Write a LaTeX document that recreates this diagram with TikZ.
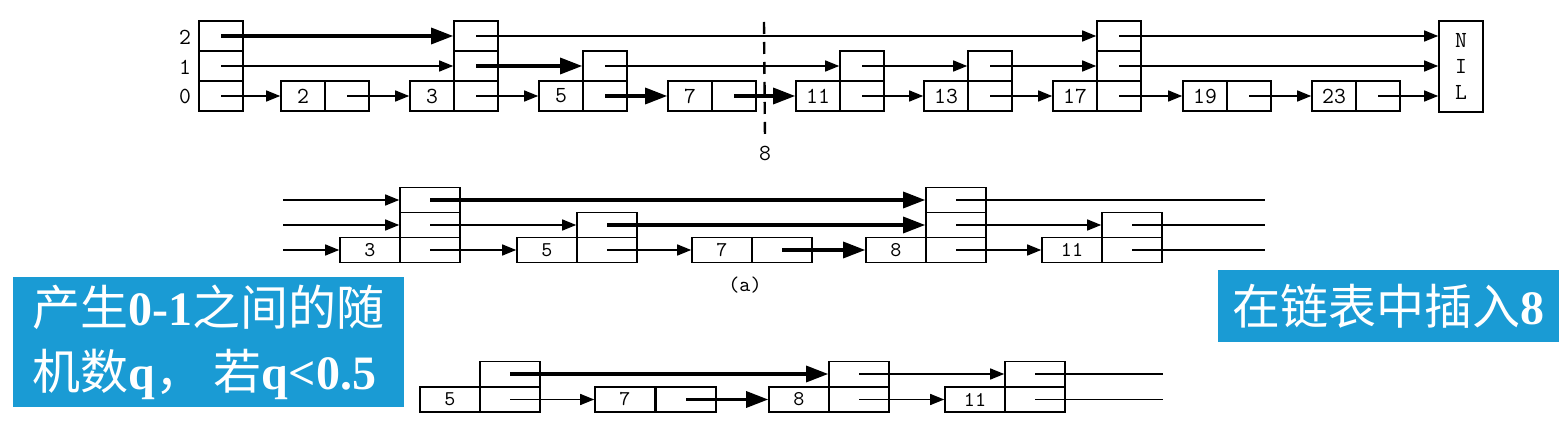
\documentclass[tikz,border=0pt]{standalone}
\usepackage{fontspec}
\usetikzlibrary{arrows.meta}
\newfontfamily\cjk{Noto Sans CJK SC}
\newfontfamily\serifnum{Liberation Serif}
\definecolor{noteblue}{RGB}{26,155,212}
\newcommand{\toptext}{\ttfamily\fontsize{11.5}{13}\selectfont}
\newcommand{\lowtext}{\ttfamily\fontsize{10.5}{12}\selectfont}
\newcommand{\qf}[1]{{\serifnum\bfseries #1}}
\tikzset{
  cell/.style={draw, line width=0.8pt, minimum width=22pt, minimum height=15pt, inner sep=0pt, font=\toptext},
  mcell/.style={draw, line width=0.8pt, minimum width=30pt, minimum height=12.5pt, inner sep=0pt, font=\lowtext},
  ln/.style={line width=0.7pt},
  arr/.style={ln, -{Triangle[length=7pt,width=5.5pt]}},
  thk/.style={line width=1.6pt, -{Triangle[length=11pt,width=8pt]}},
  cutline/.style={line width=1.2pt, dash pattern=on 6pt off 4pt},
  note/.style={fill=noteblue, text=white, inner sep=0pt, font=\fontsize{24}{32}\selectfont}
}
\begin{document}
\begin{tikzpicture}[x=0.5pt,y=-0.5pt]
\useasboundingbox (0,0) rectangle (1559,422);
% top list
\node[font=\toptext] (lv2) at (185,37) {2};
\node[font=\toptext] (lv1) at (185,67) {1};
\node[font=\toptext] (lv0) at (185,96) {0};
\node[cell] (h0) at (221,96) {};
\node[cell] (h1) at (221,66) {};
\node[cell] (h2) at (221,36) {};
\node[cell] (t2k) at (303,96) {2};
\node[cell] (t2p0) at (347,96) {};
\node[cell] (t3k) at (432,96) {3};
\node[cell] (t3p0) at (476,96) {};
\node[cell] (t3p1) at (476,66) {};
\node[cell] (t3p2) at (476,36) {};
\node[cell] (t5k) at (561,96) {5};
\node[cell] (t5p0) at (605,96) {};
\node[cell] (t5p1) at (605,66) {};
\node[cell] (t7k) at (690,96) {7};
\node[cell] (t7p0) at (734,96) {};
\node[cell] (t11k) at (818,96) {11};
\node[cell] (t11p0) at (862,96) {};
\node[cell] (t11p1) at (862,66) {};
\node[cell] (t13k) at (946,96) {13};
\node[cell] (t13p0) at (990,96) {};
\node[cell] (t13p1) at (990,66) {};
\node[cell] (t17k) at (1075,96) {17};
\node[cell] (t17p0) at (1119,96) {};
\node[cell] (t17p1) at (1119,66) {};
\node[cell] (t17p2) at (1119,36) {};
\node[cell] (t19k) at (1205,96) {19};
\node[cell] (t19p0) at (1249,96) {};
\node[cell] (t23k) at (1334,96) {23};
\node[cell] (t23p0) at (1378,96) {};
\node[cell, minimum height=45.5pt, align=center] (nil) at (1461,66.5) {N\\I\\L};
% where 8 goes
\coordinate (cuttop) at (764,22);
\node[font=\toptext] (cutlbl) at (765,153) {8};
\draw[cutline, shorten >=2pt] (cuttop) -- (cutlbl.north);
\draw[arr] (h0.center) -- (t2k.west);
\draw[arr] (h1.center) -- (t3p1.west);
\draw[thk] (h2.center) -- (t3p2.west);
\draw[arr] (t2p0.center) -- (t3k.west);
\draw[arr] (t3p0.center) -- (t5k.west);
\draw[thk] (t3p1.center) -- (t5p1.west);
\draw[arr] (t3p2.center) -- (t17p2.west);
\draw[thk] (t5p0.center) -- (t7k.west);
\draw[arr] (t5p1.center) -- (t11p1.west);
\draw[thk] (t7p0.center) -- (t11k.west);
\draw[arr] (t11p0.center) -- (t13k.west);
\draw[arr] (t11p1.center) -- (t13p1.west);
\draw[arr] (t13p0.center) -- (t17k.west);
\draw[arr] (t13p1.center) -- (t17p1.west);
\draw[arr] (t17p0.center) -- (t19k.west);
\draw[arr] (t17p1.center) -- (t17p1 -| nil.west);
\draw[arr] (t17p2.center) -- (t17p2 -| nil.west);
\draw[arr] (t19p0.center) -- (t23k.west);
\draw[arr] (t23p0.center) -- (t23p0 -| nil.west);
% middle list, 8 linked in
\coordinate (in0) at (283,250);
\coordinate (in1) at (283,225);
\coordinate (in2) at (283,200);
\node[mcell] (m3k) at (370,250) {3};
\node[mcell] (m3p0) at (430,250) {};
\node[mcell] (m3p1) at (430,225) {};
\node[mcell] (m3p2) at (430,200) {};
\node[mcell] (m5k) at (547,250) {5};
\node[mcell] (m5p0) at (607,250) {};
\node[mcell] (m5p1) at (607,225) {};
\node[mcell] (m7k) at (722,250) {7};
\node[mcell] (m7p0) at (782,250) {};
\node[mcell] (m8k) at (896,250) {8};
\node[mcell] (m8p0) at (956,250) {};
\node[mcell] (m8p1) at (956,225) {};
\node[mcell] (m8p2) at (956,200) {};
\node[mcell] (m11k) at (1072,250) {11};
\node[mcell] (m11p0) at (1132,250) {};
\node[mcell] (m11p1) at (1132,225) {};
\coordinate (out0) at (1265,250);
\coordinate (out1) at (1265,225);
\coordinate (out2) at (1265,200);
\draw[arr] (in0) -- (m3k.west);
\draw[arr] (in1) -- (m3p1.west);
\draw[arr] (in2) -- (m3p2.west);
\draw[arr] (m3p0.center) -- (m5k.west);
\draw[arr] (m3p1.center) -- (m5p1.west);
\draw[thk] (m3p2.center) -- (m8p2.west);
\draw[arr] (m5p0.center) -- (m7k.west);
\draw[thk] (m5p1.center) -- (m8p1.west);
\draw[thk] (m7p0.center) -- (m8k.west);
\draw[arr] (m8p0.center) -- (m11k.west);
\draw[arr] (m8p1.center) -- (m11p1.west);
\draw[ln] (m8p2.center) -- (out2);
\draw[ln] (m11p0.center) -- (out0);
\draw[ln] (m11p1.center) -- (out1);
\node[font=\lowtext] (capa) at (745,285) {(a)};
% bottom list
\node[mcell] (b5k) at (450,399.5) {5};
\node[mcell] (b5p0) at (510,399.5) {};
\node[mcell] (b5p1) at (510,374) {};
\node[mcell] (b7k) at (625,399.5) {7};
\node[mcell] (b7p0) at (686,399.5) {};
\node[mcell] (b8k) at (799,399.5) {8};
\node[mcell] (b8p0) at (859,399.5) {};
\node[mcell] (b8p1) at (859,374) {};
\node[mcell] (b11k) at (975,399.5) {11};
\node[mcell] (b11p0) at (1035,399.5) {};
\node[mcell] (b11p1) at (1035,374) {};
\coordinate (bo0) at (1163,399.5);
\coordinate (bo1) at (1163,374);
\draw[thk] (b5p1.center) -- (b8p1.west);
\draw[arr] (b5p0.center) -- (b7k.west);
\draw[thk] (b7p0.center) -- (b8k.west);
\draw[arr] (b8p0.center) -- (b11k.west);
\draw[arr] (b8p1.center) -- (b11p1.west);
\draw[ln] (b11p0.center) -- (bo0);
\draw[ln] (b11p1.center) -- (bo1);
% blue notes
\node[note, minimum width=195.5pt, minimum height=65pt, align=left] (note1) at (208.5,342)
  {{\cjk 产生}\qf{0-1}{\cjk 之间的随}\\{\cjk 机数}\qf{q}{\cjk ，\ 若}\qf{q<0.5}};
\node[note, minimum width=170.5pt, minimum height=36pt] (note2) at (1388.5,306)
  {{\cjk 在链表中插入}\qf{8}};
\end{tikzpicture}
\end{document}
